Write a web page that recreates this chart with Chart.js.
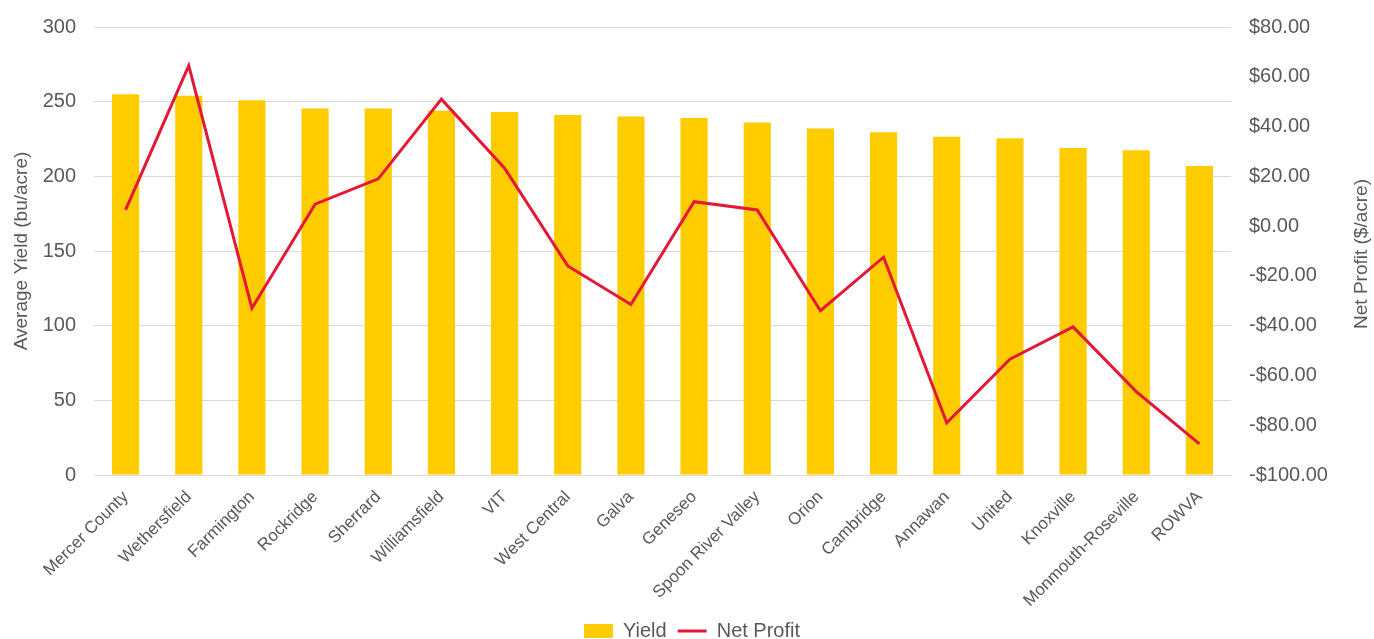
<!DOCTYPE html>
<html>
<head>
<meta charset="utf-8">
<script src="https://cdn.jsdelivr.net/npm/chart.js@4"></script>
<style>
html,body{margin:0;padding:0;background:#fff;}
#wrap{width:1374px;height:639px;position:relative;}
</style>
</head>
<body>
<div id="wrap"><canvas id="c"></canvas></div>
<script>
const categories = ["Mercer County","Wethersfield","Farmington","Rockridge","Sherrard","Williamsfield","VIT","West Central","Galva","Geneseo","Spoon River Valley","Orion","Cambridge","Annawan","United","Knoxville","Monmouth-Roseville","ROWVA"];
const yieldValues = [255, 254, 251, 245.5, 245.5, 244, 243, 241, 240, 239, 236, 232, 229.5, 226.5, 225.5, 219, 217.5, 207];
const netProfit = [6.5, 64.5, -33, 8.8, 19, 51, 23.3, -16, -31.5, 9.8, 6.5, -34, -12.5, -79, -53.5, -40.5, -66.5, -87.5];
const yieldTicks = {min: 0, max: 300, step: 50};
const profitTicks = {min: -100, max: 80, step: 20};

const FONT = "'Liberation Sans', Arial, Helvetica, sans-serif";
const TXT = '#595959';
const GRID = '#d9d9d9';
const RIGHT_TITLE = 'Net Profit ($/acre)';

function money(v){
  const s = '$' + Math.abs(v).toFixed(2);
  return v < 0 ? '-' + s : s;
}

// right-axis title drawn reading bottom-to-top, like the reference
const rightTitle = {
  id: 'rightTitle',
  afterDraw(chart) {
    const ctx = chart.ctx;
    const area = chart.chartArea;
    ctx.save();
    ctx.font = '19px ' + FONT;
    ctx.fillStyle = TXT;
    ctx.textAlign = 'center';
    ctx.textBaseline = 'middle';
    ctx.translate(1362, (area.top + area.bottom) / 2 + 3);
    ctx.rotate(-Math.PI / 2);
    ctx.fillText(RIGHT_TITLE, 0, 0);
    ctx.restore();
  }
};

new Chart(document.getElementById('c'), {
  data: {
    labels: categories,
    datasets: [
      {
        type: 'line',
        label: 'Net Profit',
        data: netProfit,
        yAxisID: 'y1',
        borderColor: '#e31937',
        backgroundColor: '#e31937',
        borderWidth: 3,
        pointRadius: 0,
        pointHoverRadius: 0,
        tension: 0,
        pointStyle: 'line',
        order: 0
      },
      {
        type: 'bar',
        label: 'Yield',
        data: yieldValues,
        yAxisID: 'y',
        backgroundColor: '#ffcc00',
        borderWidth: 0,
        categoryPercentage: 1,
        barPercentage: 0.43,
        pointStyle: 'rect',
        order: 1
      }
    ]
  },
  options: {
    responsive: true,
    maintainAspectRatio: false,
    animation: false,
    layout: {padding: {left: 10, right: 0, top: 27, bottom: -12}},
    plugins: {
      tooltip: {enabled: false},
      legend: {
        position: 'bottom',
        reverse: true,
        labels: {
          font: {family: FONT, size: 20},
          color: TXT,
          usePointStyle: true,
          pointStyleWidth: 29,
          boxHeight: 14,
          padding: 11
        }
      }
    },
    scales: {
      x: {
        afterFit: (s) => { s.paddingLeft = 0; s.paddingRight = 0; s.height = 135; },
        grid: {display: false, drawTicks: false},
        border: {display: true, color: GRID, width: 1},
        ticks: {
          font: {family: FONT, size: 17},
          color: TXT,
          autoSkip: false,
          maxRotation: 45,
          minRotation: 45,
          padding: 12
        }
      },
      y: {
        position: 'left',
        min: yieldTicks.min,
        max: yieldTicks.max,
        afterFit: (s) => { s.width = 84; s.paddingTop = 0; s.paddingBottom = 0; },
        grid: {color: GRID, lineWidth: 1, drawTicks: false},
        border: {display: false},
        ticks: {
          stepSize: yieldTicks.step,
          font: {family: FONT, size: 20},
          color: TXT,
          padding: 18
        },
        title: {
          display: true,
          text: 'Average Yield (bu/acre)',
          font: {family: FONT, size: 19},
          color: TXT,
          padding: {top: 0, bottom: 4}
        }
      },
      y1: {
        position: 'right',
        min: profitTicks.min,
        max: profitTicks.max,
        afterFit: (s) => { s.width = 143; s.paddingTop = 0; s.paddingBottom = 0; },
        grid: {drawOnChartArea: false, drawTicks: false},
        border: {display: false},
        ticks: {
          stepSize: profitTicks.step,
          font: {family: FONT, size: 20},
          color: TXT,
          padding: 18,
          callback: (v) => money(v)
        }
      }
    }
  },
  plugins: [rightTitle]
});
</script>
</body>
</html>
